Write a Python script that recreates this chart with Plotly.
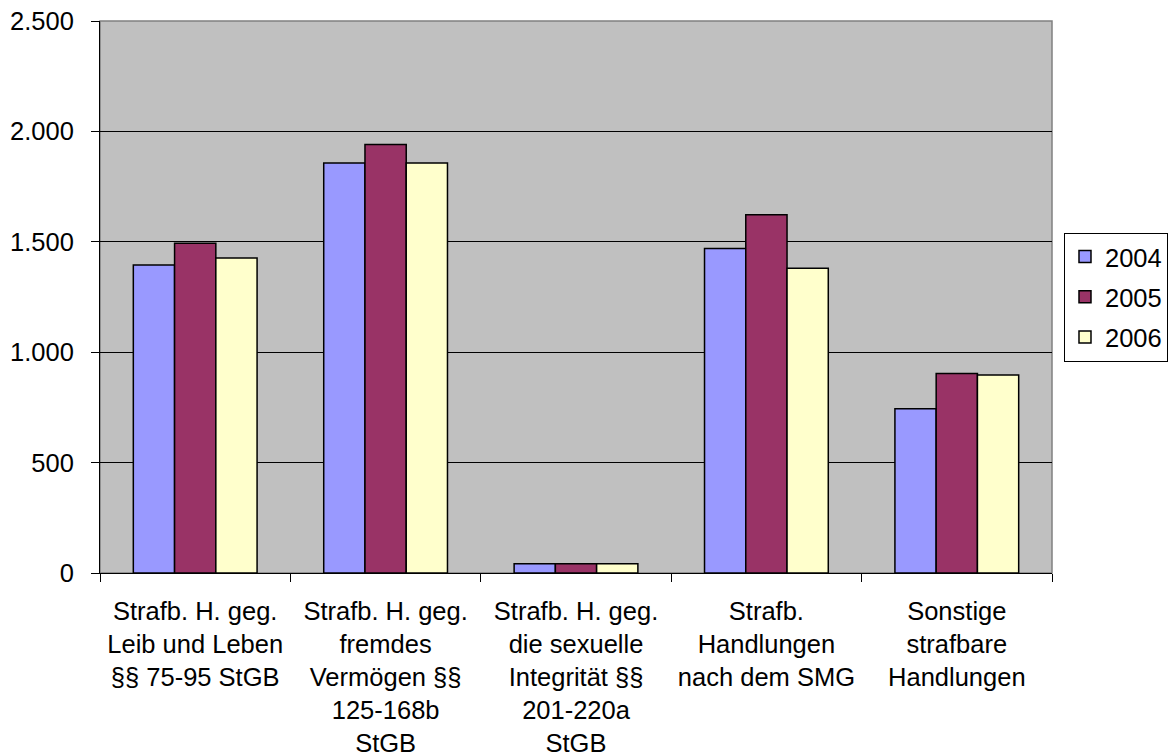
import plotly.graph_objects as go

categories = [
    "Strafb. H. geg.<br>Leib und Leben<br>§§ 75-95 StGB",
    "Strafb. H. geg.<br>fremdes<br>Vermögen §§<br>125-168b<br>StGB",
    "Strafb. H. geg.<br>die sexuelle<br>Integrität §§<br>201-220a<br>StGB",
    "Strafb.<br>Handlungen<br>nach dem SMG",
    "Sonstige<br>strafbare<br>Handlungen",
]
series_names = ["2004", "2005", "2006"]
values_2004 = [1395, 1857, 42, 1470, 744]
values_2005 = [1493, 1941, 42, 1623, 904]
values_2006 = [1427, 1857, 42, 1380, 897]
colors = ["#9999FF", "#993366", "#FFFFCC"]

y_tickvals = [0, 500, 1000, 1500, 2000, 2500]
y_ticktext = ["0", "500", "1.000", "1.500", "2.000", "2.500"]

FONT = "Liberation Sans, Arial, sans-serif"
FS = 25.5

fig = go.Figure()
for name, vals, col in zip(series_names, [values_2004, values_2005, values_2006], colors):
    fig.add_trace(go.Bar(
        x=categories, y=vals, name=name, legendgroup=name,
        marker=dict(color=col, line=dict(color="black", width=1.5)),
    ))

# page body has an 8px default margin, so the figure is sized to fit the window
fig.update_layout(
    width=1168, height=748,
    margin=dict(l=92, r=124, t=13, b=183, autoexpand=False),
    paper_bgcolor="white",
    plot_bgcolor="#C0C0C0",
    barmode="group",
    bargap=0.35,
    bargroupgap=0,
    font=dict(family=FONT, size=FS, color="black"),
    legend=dict(
        x=1.0126, xanchor="left", y=0.5, yanchor="middle",
        bordercolor="black", borderwidth=1, bgcolor="white",
        font=dict(size=FS), traceorder="grouped", tracegroupgap=4,
    ),
    shapes=[dict(type="rect", xref="paper", yref="paper", x0=0, x1=1, y0=0, y1=1,
                 line=dict(color="#808080", width=1.5), layer="below")],
)
fig.update_xaxes(
    showgrid=False, showline=True, linecolor="black", linewidth=1,
    ticks="outside", tickson="boundaries", ticklen=8, tickcolor="black",
    tickfont=dict(size=FS), tickangle=0, automargin=False, ticklabelstandoff=15,
    ticklabeloverflow="allow",
)
fig.update_yaxes(
    range=[0, 2500], tickvals=y_tickvals, ticktext=y_ticktext,
    showgrid=True, gridcolor="black", gridwidth=1,
    showline=True, linecolor="black", linewidth=1,
    ticks="outside", ticklen=8, tickcolor="black",
    tickfont=dict(size=FS), zeroline=False, ticklabelstandoff=12, automargin=False,
    ticklabeloverflow="allow",
)
fig.write_html("out.html")
